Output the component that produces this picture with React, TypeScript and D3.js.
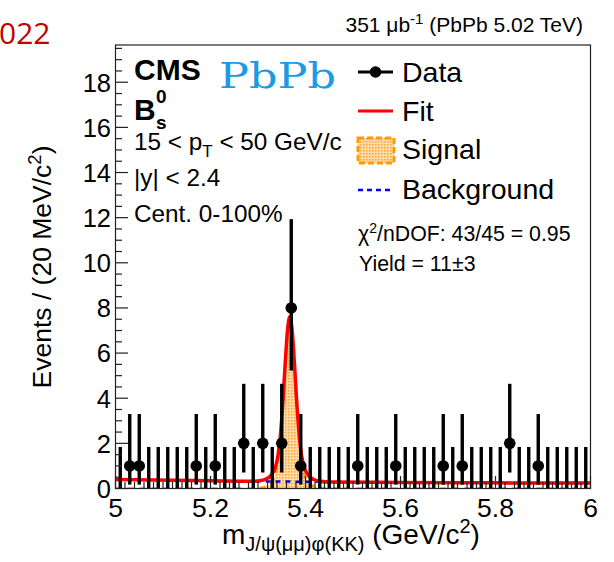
import React from "react";
import * as d3 from "d3";

const W = 614;
const H = 562;

// Histogram: 50 bins of 20 MeV from 5.0 to 6.0 GeV
const binLow = 5.0;
const binWidth = 0.02;
const counts = [
  0, 1, 1, 0, 0, 0, 0, 0, 1, 0,
  1, 0, 0, 2, 0, 2, 0, 2, 8, 1,
  0, 0, 0, 0, 0, 1, 0, 0, 0, 1,
  0, 0, 0, 0, 1, 0, 1, 0, 0, 0,
  0, 2, 0, 0, 1, 0, 0, 0, 0, 0,
];
// Poisson (Garwood) 68% intervals per count
const poissonLow: Record<number, number> = { 0: 0, 1: 0.173, 2: 0.708, 8: 5.226 };
const poissonHigh: Record<number, number> = { 0: 1.841, 1: 3.3, 2: 4.638, 8: 11.935 };

// Fit curves
const fitX = [5.0, 5.2, 5.287, 5.307, 5.317, 5.327, 5.337, 5.342, 5.347, 5.352, 5.357, 5.362, 5.367,
  5.372, 5.377, 5.382, 5.387, 5.392, 5.397, 5.407, 5.417, 5.427, 5.447, 5.6, 5.8, 6.0];
const signalY = [0, 0, 0.002, 0.032, 0.1, 0.26, 0.66, 1.14, 2.01, 3.4, 5.14, 6.68, 7.3,
  6.68, 5.14, 3.4, 2.01, 1.14, 0.66, 0.26, 0.1, 0.032, 0.002, 0, 0, 0];
const bkgY = [0.4, 0.34, 0.32, 0.32, 0.32, 0.31, 0.31, 0.31, 0.31, 0.31, 0.31, 0.31, 0.31,
  0.31, 0.3, 0.3, 0.3, 0.3, 0.3, 0.3, 0.3, 0.3, 0.29, 0.27, 0.25, 0.24];

const xTicks = [5, 5.2, 5.4, 5.6, 5.8, 6];
const xTickLabels = ["5", "5.2", "5.4", "5.6", "5.8", "6"];
const yTicks = [0, 2, 4, 6, 8, 10, 12, 14, 16, 18];
const yTickLabels = ["0", "2", "4", "6", "8", "10", "12", "14", "16", "18"];

const SANS = "'Liberation Sans', Arial, Helvetica, sans-serif";

export default function App() {
  const x = d3.scaleLinear().domain([5, 6]).range([115.5, 590.5]);
  const y = d3.scaleLinear().domain([0, 19.65]).range([488.5, 45]);

  const pts = fitX.map((m, i) => ({ m, s: signalY[i], b: bkgY[i], t: signalY[i] + bkgY[i] }));

  const sigArea = d3.area<any>().x((d) => x(d.m)).y0(y(0)).y1((d) => y(d.s)).curve(d3.curveMonotoneX);
  const sigLine = d3.line<any>().x((d) => x(d.m)).y((d) => y(d.s)).curve(d3.curveMonotoneX);
  const bkgLine = d3.line<any>().x((d) => x(d.m)).y((d) => y(d.b)).curve(d3.curveMonotoneX);
  const totLine = d3.line<any>().x((d) => x(d.m)).y((d) => y(d.t)).curve(d3.curveMonotoneX);

  const bins = counts.map((c, i) => ({ c, m: binLow + binWidth * (i + 0.5) }));

  const yMinor = d3.range(0, 19.6, 0.5);
  const xMinor = d3.range(5, 6.0001, 0.02);

  const [x0, x1] = x.range();
  const [yb, yt] = y.range();

  return (
    <div style={{ position: "absolute", left: 0, top: 0 }}>
      <svg width={W} height={H} style={{ display: "block", background: "#fff" }}>
        <defs>
          <pattern id="sigpat" width="3" height="3" patternUnits="userSpaceOnUse">
            <rect width="3" height="3" fill="#ffdca8" />
            <rect x="0" y="0" width="1.5" height="1.5" fill="#ffa333" />
          </pattern>
          <clipPath id="frameclip">
            <rect x={x0} y={yt} width={x1 - x0} height={yb - yt} />
          </clipPath>
        </defs>

        {/* signal */}
        <g clipPath="url(#frameclip)">
          <path d={sigArea(pts) || ""} fill="url(#sigpat)" />
          <path d={sigLine(pts) || ""} fill="none" stroke="#ff9900" strokeWidth={2.5} strokeDasharray="6 6" />
          <path d={bkgLine(pts) || ""} fill="none" stroke="#0000ff" strokeWidth={2.5} strokeDasharray="5 5" />
          <path d={totLine(pts) || ""} fill="none" stroke="#ff0000" strokeWidth={3.5} />
        </g>

        {/* data */}
        <g>
          {bins.map((b, i) => (
            <line key={"e" + i} x1={x(b.m)} x2={x(b.m)} y1={y(poissonLow[b.c])} y2={y(poissonHigh[b.c])}
              stroke="#000" strokeWidth={3.4} />
          ))}
          {bins.filter((b) => b.c > 0).map((b, i) => (
            <circle key={"p" + i} cx={x(b.m)} cy={y(b.c)} r={5.8} fill="#000" />
          ))}
        </g>

        {/* frame */}
        <rect x={x0} y={yt} width={x1 - x0} height={yb - yt} fill="none" stroke="#222" strokeWidth={1.2} />

        {/* y ticks */}
        {yMinor.map((v, i) => (
          <line key={"ym" + i} x1={x0} x2={x0 + (Math.abs(v / 2 - Math.round(v / 2)) < 1e-6 ? 12.5 : 6.5)}
            y1={y(v)} y2={y(v)} stroke="#222" strokeWidth={1.2} />
        ))}
        {yTicks.map((v, i) => (
          <text key={"yl" + i} x={111} y={y(v) + 9.3} textAnchor="end" fontFamily={SANS} fontSize={25.5} fill="#000">
            {yTickLabels[i]}
          </text>
        ))}
        {/* x ticks */}
        {xMinor.map((v, i) => (
          <line key={"xm" + i} x1={x(v)} x2={x(v)} y1={yb} y2={yb - (i % 10 === 0 ? 12.5 : 6.5)}
            stroke="#222" strokeWidth={1.2} />
        ))}
        {xTicks.map((v, i) => (
          <text key={"xl" + i} x={x(v)} y={517} textAnchor="middle" fontFamily={SANS} fontSize={26.5} fill="#000">
            {xTickLabels[i]}
          </text>
        ))}

        {/* axis titles */}
        <text transform="translate(51,267) rotate(-90)" textAnchor="middle" fontFamily={SANS} fontSize={26.5} fill="#000">
          Events / (20 MeV/c<tspan dy={-10} fontSize={18.5}>2</tspan><tspan dy={10}>)</tspan>
        </text>
        <text x={222} y={544} fontFamily={SANS} fontSize={28} fill="#000">
          m<tspan dy={7} fontSize={20}>J/ψ(μμ)φ(KK)</tspan>
          <tspan dy={-7}> (GeV/c</tspan><tspan dy={-11} fontSize={20}>2</tspan><tspan dy={11}>)</tspan>
        </text>

        {/* header */}
        <text x={-1} y={44} fontFamily="'Open Sans', sans-serif" fontSize={30} fill="#c00000">022</text>
        <text x={583} y={32} textAnchor="end" fontFamily={SANS} fontSize={21} fill="#000">
          351 μb<tspan dy={-8} fontSize={15}>-1</tspan><tspan dy={8}> (PbPb 5.02 TeV)</tspan>
        </text>

        {/* labels inside */}
        <text x={134} y={80} fontFamily={SANS} fontWeight="bold" fontSize={30} fill="#000">CMS</text>
        <text x={134} y={120} fontFamily={SANS} fontWeight="bold" fontSize={30} fill="#000">B</text>
        <text x={156} y={103} fontFamily={SANS} fontWeight="bold" fontSize={19} fill="#000">0</text>
        <text x={156} y={129} fontFamily={SANS} fontWeight="bold" fontSize={19} fill="#000">s</text>
        <text x={219} y={88} fontFamily="'DejaVu Serif', serif" fontSize={36} textLength={117} lengthAdjust="spacingAndGlyphs" fill="#1a9be3">PbPb</text>
        <text x={134} y={150} fontFamily={SANS} fontSize={24.3} fill="#000">
          15 &lt; p<tspan dy={7} fontSize={17}>T</tspan><tspan dy={-7}> &lt; 50 GeV/c</tspan>
        </text>
        <text x={134} y={186} fontFamily={SANS} fontSize={24.3} fill="#000">|y| &lt; 2.4</text>
        <text x={134} y={222} fontFamily={SANS} fontSize={24.3} fill="#000">Cent. 0-100%</text>

        {/* legend */}
        <line x1={358} x2={393} y1={72} y2={72} stroke="#000" strokeWidth={3} />
        <circle cx={375.5} cy={72} r={5.8} fill="#000" />
        <text x={402} y={82} fontFamily={SANS} fontSize={28.5} fill="#000">Data</text>
        <line x1={358} x2={393} y1={111} y2={111} stroke="#ff0000" strokeWidth={3} />
        <text x={402} y={121} fontFamily={SANS} fontSize={28.5} fill="#000">Fit</text>
        <rect x={358} y={138} width={36} height={25} fill="url(#sigpat)" stroke="#ff9900" strokeWidth={3} strokeDasharray="6 3" />
        <text x={402} y={159} fontFamily={SANS} fontSize={28.5} fill="#000">Signal</text>
        <line x1={358} x2={393} y1={190} y2={190} stroke="#0000ff" strokeWidth={2.5} strokeDasharray="5 4" />
        <text x={402} y={199} fontFamily={SANS} fontSize={28.5} fill="#000">Background</text>

        <text x={358} y={241} fontFamily={SANS} fontSize={21.3} fill="#000">
          χ<tspan dy={-8} fontSize={14}>2</tspan><tspan dy={8}>/nDOF: 43/45 = 0.95</tspan>
        </text>
        <text x={359} y={271} fontFamily={SANS} fontSize={21.3} fill="#000">Yield = 11±3</text>
      </svg>
    </div>
  );
}
